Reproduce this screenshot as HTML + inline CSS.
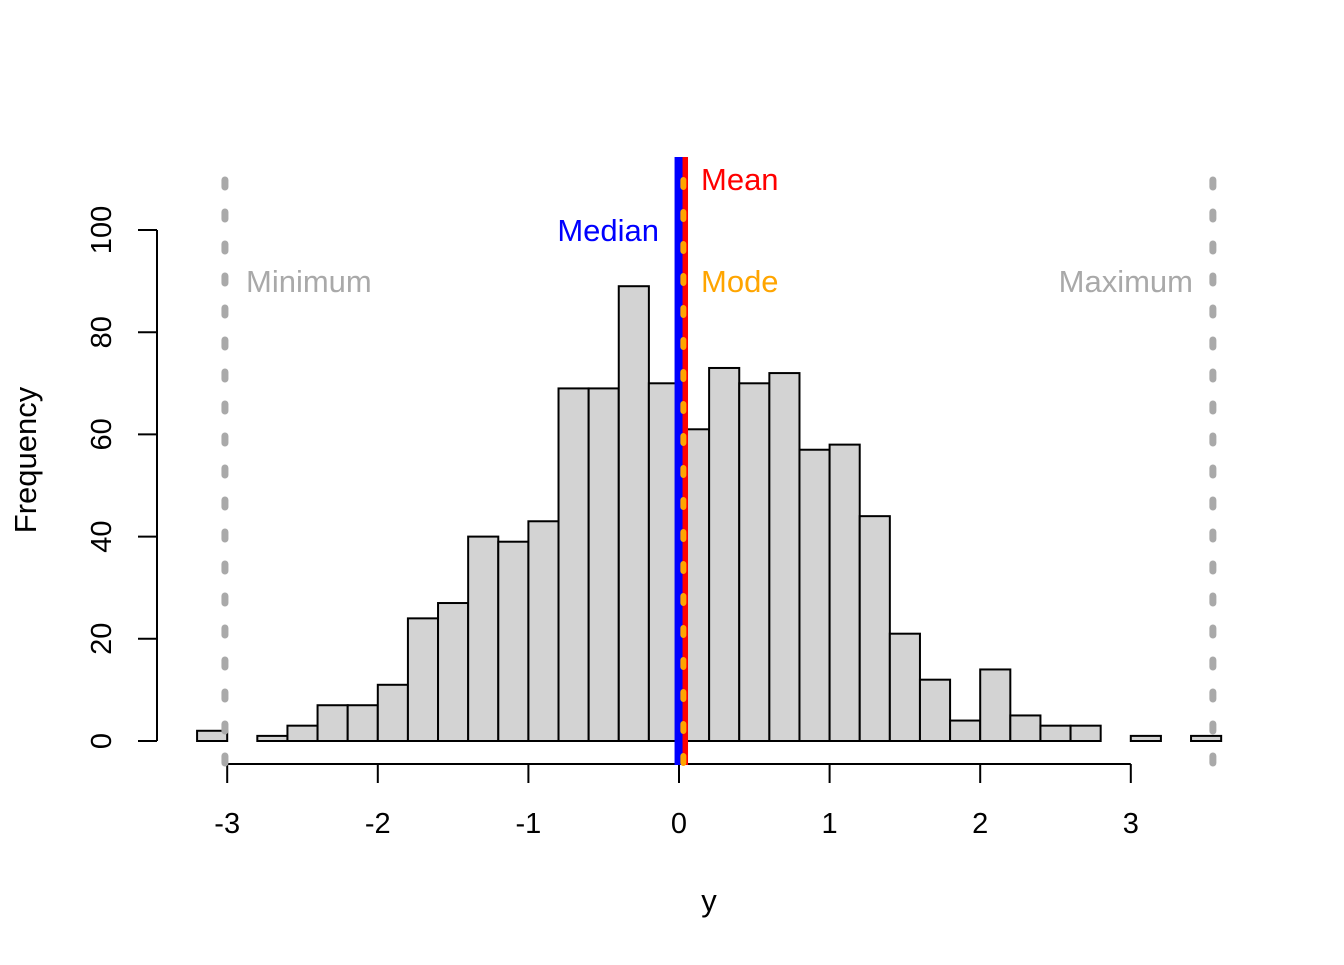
<!DOCTYPE html>
<html><head><meta charset="utf-8"><style>
html,body{margin:0;padding:0;background:#fff}
svg text{font-family:"Liberation Sans",Arial,sans-serif}
</style></head><body>
<svg id="c" width="1344" height="960" xmlns="http://www.w3.org/2000/svg"></svg>
<script>
const binStart = -3.2;
const binWidth = 0.2;
const counts = [2,0,1,3,7,7,11,24,27,40,39,43,69,69,89,70,61,73,70,72,57,58,44,21,12,4,14,5,3,3,0,1,0,1];
const xTicks = [-3,-2,-1,0,1,2,3];
const yTicks = [0,20,40,60,80,100];
const stats = {min:-3.015, max:3.545, median:-0.003, mean:0.04, mode:0.029};

const NS="http://www.w3.org/2000/svg";
const svg=document.getElementById('c');
const xs=v=>679+v*150.6;
const ys=v=>741-v*5.11;
function el(t,a,p){const e=document.createElementNS(NS,t);for(const k in a)e.setAttribute(k,a[k]);(p||svg).appendChild(e);return e;}

const bars=el('g',{});


counts.forEach((c,i)=>{
  if(c===0) return;
  const x0=xs(binStart+i*binWidth), x1=xs(binStart+(i+1)*binWidth);
  const r=el('rect',{x:x0,y:ys(c),width:x1-x0,height:ys(0)-ys(c),fill:'#d3d3d3',stroke:'#000','stroke-width':2},bars);
  
  
});

// x axis
const xa=el('g',{});


el('line',{x1:xs(xTicks[0]),x2:xs(xTicks[xTicks.length-1]),y1:764,y2:764,stroke:'#000','stroke-width':2},xa);
xTicks.forEach(t=>{
  el('line',{x1:xs(t),x2:xs(t),y1:764,y2:783,stroke:'#000','stroke-width':2},xa);
  const tx=el('text',{x:xs(t),y:833,'font-size':29,'text-anchor':'middle'},xa);
  tx.textContent=t;
  
  
});
// y axis
const ya=el('g',{});


el('line',{x1:157,x2:157,y1:ys(yTicks[yTicks.length-1]),y2:ys(0),stroke:'#000','stroke-width':2},ya);
yTicks.forEach(t=>{
  el('line',{x1:138,x2:157,y1:ys(t),y2:ys(t),stroke:'#000','stroke-width':2},ya);
  const tx=el('text',{x:0,y:0,'font-size':29,'text-anchor':'middle',transform:`translate(111,${ys(t)}) rotate(-90)`},ya);
  tx.textContent=t;
  
  
});

// stat lines
function vline(v,color,w,dash,top,name){
  const a={x1:xs(v),x2:xs(v),y1:top,y2:765,stroke:color,'stroke-width':w};
  if(dash){a['stroke-dasharray']=dash;a['stroke-linecap']='round';}
  const l=el('line',a);
  
  
}
vline(stats.min,'#a9a9a9',7,'7 25',180,'minimum-line');
vline(stats.max,'#a9a9a9',7,'7 25',180,'maximum-line');
vline(stats.mean,'#ff0000',6,null,157,'mean-line');
vline(stats.median,'#0000ff',8,null,157,'median-line');
vline(stats.mode,'#ffa500',6,'7 25',180,'mode-line');

function lbl(x,y,txt,color,anchor,name){
  const t=el('text',{x:x,y:y,'font-size':31,fill:color,'text-anchor':anchor});
  t.textContent=txt;
  
  
}
lbl(701,190,'Mean','#ff0000','start','mean-label');
lbl(659,241,'Median','#0000ff','end','median-label');
lbl(701,292,'Mode','#ffa500','start','mode-label');
lbl(246,292,'Minimum','#a9a9a9','start','minimum-label');
lbl(1193,292,'Maximum','#a9a9a9','end','maximum-label');

const xt=el('text',{x:709,y:911,'font-size':31,'text-anchor':'middle'});
xt.textContent='y';


const yt=el('text',{x:0,y:0,'font-size':31,'text-anchor':'middle',transform:'translate(36,460) rotate(-90)'});
yt.textContent='Frequency';


</script>
</body></html>
